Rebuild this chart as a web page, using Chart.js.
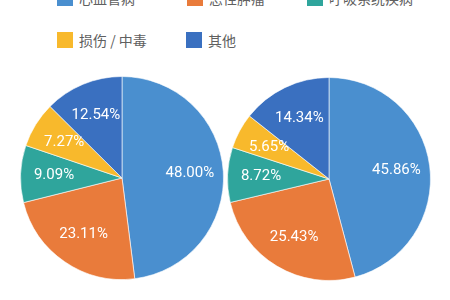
<!DOCTYPE html>
<html>
<head>
<meta charset="utf-8">
<script src="https://cdn.jsdelivr.net/npm/chart.js@4"></script>
<style>
  body { margin: 0; width: 450px; height: 300px; background: #fff; overflow: hidden; position: relative; font-family: "Noto Sans CJK SC", "Noto Sans", sans-serif; }
  .leg { position: absolute; display: flex; align-items: center; font-size: 14px; color: #606060; }
  .leg span { display: inline-block; width: 16px; height: 16px; margin-right: 6px; }
  canvas { position: absolute; }
</style>
</head>
<body>
<div id="legend"></div>
<canvas id="pieA" width="204" height="204" style="left:20px;top:76px"></canvas>
<canvas id="pieB" width="204" height="204" style="left:227px;top:77px"></canvas>
<script>
const categories = ["心血管病", "恶性肿瘤", "呼吸系统疾病", "损伤 / 中毒", "其他"];
const colors = ["#4a8fcf", "#e97b3b", "#2fa59c", "#f8b92c", "#3a70c0"];
const leftValues = [48.00, 23.11, 9.09, 7.27, 12.54];
const rightValues = [45.86, 25.43, 8.72, 5.65, 14.34];

// legend positions (two rows, top row partly cut off)
const legendSpots = [[57, -12], [187, -12], [307, -12], [57, 30], [186, 30]];
const legend = document.getElementById("legend");
categories.forEach((c, i) => {
  const d = document.createElement("div");
  d.className = "leg";
  d.style.left = legendSpots[i][0] + "px";
  d.style.top = legendSpots[i][1] + "px";
  d.innerHTML = `<span style="background:${colors[i]}"></span>${c}`;
  legend.appendChild(d);
});

// percent labels inside slices
const pctLabels = {
  id: "pctLabels",
  afterDatasetsDraw(chart) {
    const ctx = chart.ctx;
    const data = chart.data.datasets[0].data;
    ctx.save();
    ctx.font = "15px Roboto, 'Noto Sans', sans-serif";
    ctx.fillStyle = "#fff";
    ctx.textAlign = "center";
    ctx.textBaseline = "middle";
    chart.getDatasetMeta(0).data.forEach((arc, i) => {
      const p = arc.getProps(["x", "y", "startAngle", "endAngle", "outerRadius"], true);
      const mid = (p.startAngle + p.endAngle) / 2;
      const r = p.outerRadius * 0.67;
      ctx.fillText(data[i].toFixed(2) + "%", p.x + Math.cos(mid) * r, p.y + Math.sin(mid) * r);
    });
    ctx.restore();
  }
};

function drawPie(id, values) {
  new Chart(document.getElementById(id), {
    type: "pie",
    data: {
      labels: categories,
      datasets: [{ data: values, backgroundColor: colors, borderColor: "rgba(255,255,255,0.6)", borderWidth: 1 }]
    },
    options: {
      responsive: false,
      animation: false,
      layout: { padding: 0 },
      plugins: { legend: { display: false }, tooltip: { enabled: false } }
    },
    plugins: [pctLabels]
  });
}

drawPie("pieA", leftValues);
drawPie("pieB", rightValues);
</script>
</body>
</html>
